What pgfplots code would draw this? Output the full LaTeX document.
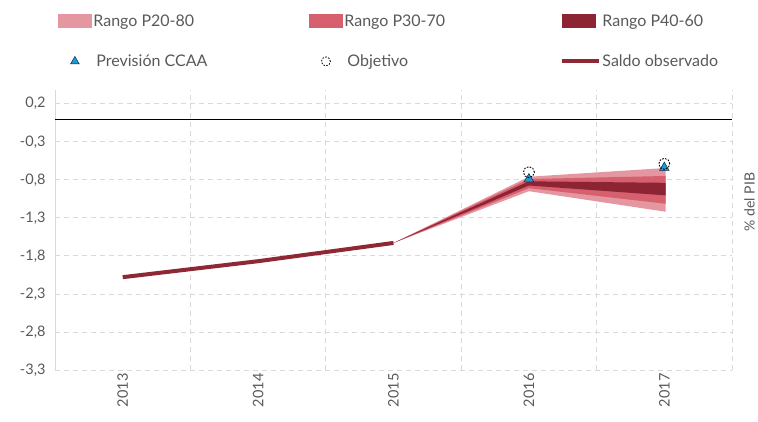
\documentclass[border=0pt]{standalone}
\usepackage{pgfplots}
\pgfplotsset{compat=1.18}
\usepackage{fontspec}
\setmainfont{Lato}
\usetikzlibrary{calc}

\definecolor{pA}{HTML}{E597A1}
\definecolor{pB}{HTML}{D6606D}
\definecolor{pC}{HTML}{8C2433}
\definecolor{saldo}{HTML}{8E2835}
\definecolor{ccaa}{HTML}{1E9AD6}
\definecolor{gridc}{HTML}{D9D9D9}
\definecolor{txt}{HTML}{595959}

% legend images all 34pt wide
\pgfplotsset{
  patchleg/.style={legend image code/.code={\path[##1, draw=none] (0pt,-7pt) rectangle (34pt,7pt);}},
  markleg/.style={legend image code/.code={\path[draw=none,fill=none] (0pt,0pt) -- (34pt,0pt);
      \path[##1, draw=none] plot[only marks] coordinates {(17pt,0pt)};}},
  lineleg/.style={legend image code/.code={\draw[##1] (0pt,0pt) -- (37pt,0pt);}},
}

\begin{document}
\begin{tikzpicture}
\begin{axis}[
  name=ax,
  scale only axis, width=677pt, height=280pt,
  xmin=-0.5, xmax=4.5, ymin=-3.3, ymax=0.38,
  xtick={0,1,2,3,4},
  xticklabels={2013,2014,2015,2016,2017},
  minor xtick={0.5,1.5,2.5,3.5,4.5},
  ytick={-3.3,-2.8,-2.3,-1.8,-1.3,-0.8,-0.3,0.2},
  /pgf/number format/.cd, use comma, fixed, fixed zerofill, precision=1, assume math mode=true,
  /pgfplots/.cd,
  axis lines*=left,
  x axis line style={draw=none},
  y axis line style={draw=gridc, line width=0.8pt},
  ymajorgrids, xminorgrids,
  grid style={gridc, dash pattern=on 5pt off 4pt, line width=0.8pt},
  minor grid style={gridc, dash pattern=on 5pt off 4pt, line width=0.8pt},
  major tick length=0pt,
  minor tick length=5pt,
  tick align=inside,
  minor tick style={gridc, line width=0.8pt},
  tick label style={font=\fontsize{14.5}{16}\selectfont, text=txt},
  xticklabel style={rotate=90, anchor=east},
  yticklabel style={anchor=east, xshift=-6pt},
  ylabel={\% del PIB},
  ylabel style={at={(axis description cs:1.026,0.6)}, anchor=center, font=\fontsize{14}{16}\selectfont, text=txt},
  legend columns=3,
  legend style={at={(axis description cs:0.004,1.275)}, anchor=north west,
    draw=none, fill=none, inner sep=0pt, column sep=0pt, row sep=24pt,
    font=\fontsize{16}{18}\selectfont, text=txt,
    nodes={inner sep=1.5pt, anchor=west}},
]
% legend
\addlegendimage{patchleg, fill=pA}
\addlegendentry{\makebox[214pt][l]{Rango P20-80}}
\addlegendimage{patchleg, fill=pB}
\addlegendentry{\makebox[214pt][l]{Rango P30-70}}
\addlegendimage{patchleg, fill=pC}
\addlegendentry{Rango P40-60}
\addlegendimage{markleg, mark=triangle*, mark size=5pt, mark options={fill=ccaa, draw=black!70!ccaa, line width=0.5pt}}
\addlegendentry{\makebox[214pt][l]{\hspace{3pt}Previsión CCAA}}
\addlegendimage{markleg, mark=o, mark size=4.5pt, mark options={fill=white, draw=black, line width=0.8pt, dash pattern=on 1.6pt off 1.4pt}}
\addlegendentry{\makebox[214pt][l]{\hspace{3pt}Objetivo}}
\addlegendimage{lineleg, saldo, line width=4pt}
\addlegendentry{Saldo observado}

% zero line
\addplot[black, line width=0.8pt, forget plot] coordinates {(-0.5,0) (4.5,0)};

% fan
\addplot[fill=pA, draw=none, forget plot] coordinates {(2,-1.63) (3,-0.76) (4.01,-0.645) (4.01,-1.22) (3,-0.95) (2,-1.63)};
\addplot[fill=pB, draw=none, forget plot] coordinates {(2,-1.63) (3,-0.79) (4.01,-0.75) (4.01,-1.115) (3,-0.91) (2,-1.63)};
\addplot[fill=pC, draw=none, forget plot] coordinates {(2,-1.63) (3,-0.82) (4.01,-0.84) (4.01,-1.005) (3,-0.875) (2,-1.63)};

% saldo observado
\addplot[saldo, line width=4pt, forget plot] coordinates {(0,-2.08) (1,-1.87) (2,-1.63)};

% prevision CCAA
\addplot[only marks, mark=triangle*, mark size=5.5pt, mark options={fill=ccaa, draw=black!70!ccaa, line width=0.5pt}, forget plot]
  coordinates {(3,-0.79) (4,-0.64)};
% objetivo
\addplot[only marks, mark=o, mark size=5.5pt, mark options={fill=white, draw=black, line width=0.9pt, dash pattern=on 1.6pt off 1.4pt}, forget plot]
  coordinates {(3,-0.70) (4,-0.59)};
\end{axis}
\pgfresetboundingbox
\path ($(ax.south west)+(-55pt,-51pt)$) rectangle ($(ax.north east)+(26pt,90pt)$);
\end{tikzpicture}
\end{document}
